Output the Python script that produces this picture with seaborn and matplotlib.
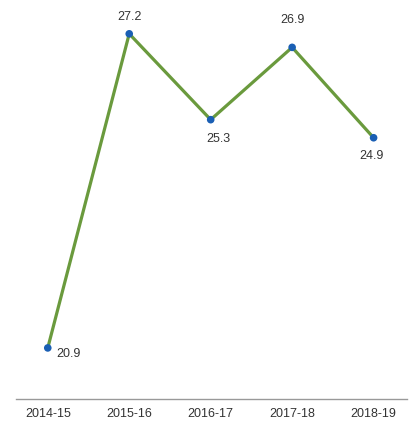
import matplotlib
matplotlib.use("Agg")
import matplotlib.pyplot as plt
import seaborn as sns
import pandas as pd

# Data
years = ["2014-15", "2015-16", "2016-17", "2017-18", "2018-19"]
values = [20.25, 27.2, 25.3, 26.9, 24.9]
value_labels = ["20.9", "27.2", "25.3", "26.9", "24.9"]
# label offsets (pixels) relative to each point
label_offsets = [(21, -5), (0, 18), (8, -18), (0, 28), (-2, -17)]

df = pd.DataFrame({"year": years, "value": values})

sns.set_style("white")
plt.rcParams["font.family"] = ["Liberation Sans", "DejaVu Sans"]

fig = plt.figure(figsize=(4.17, 4.27), dpi=100)
ax = fig.add_axes([16 / 417, 27 / 427, 391 / 417, 400 / 427])

sns.lineplot(data=df, x="year", y="value", color="#6a9a3d", linewidth=2.3, ax=ax, sort=False)
sns.scatterplot(data=df, x="year", y="value", color="#1a5fb4", s=30, edgecolor="none", zorder=3, ax=ax)

for i, (v, lab) in enumerate(zip(values, value_labels)):
    dx, dy = label_offsets[i]
    ax.annotate(lab, (i, v), xytext=(dx, dy), textcoords="offset pixels",
                ha="center", va="center", fontsize=9, color="#333333")

ax.set_xlim(-0.39, 4.41)
ax.set_ylim(19.12, 27.97)
ax.set_xlabel("")
ax.set_ylabel("")
ax.set_yticks([])
ax.tick_params(axis="x", length=0, pad=6, labelsize=9, labelcolor="#333333")
sns.despine(ax=ax, left=True, top=True, right=True)
ax.spines["bottom"].set_color("#999999")
ax.spines["bottom"].set_linewidth(1)

fig.savefig("out.png", dpi=100)
